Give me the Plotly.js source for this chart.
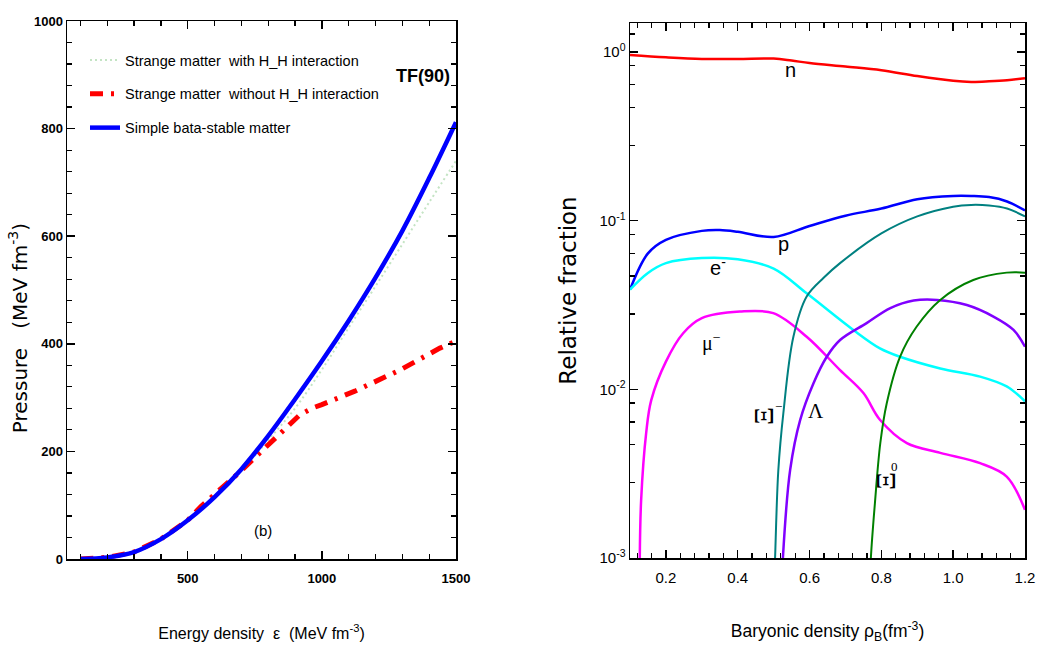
<!DOCTYPE html>
<html><head><meta charset="utf-8">
<script src="https://cdn.plot.ly/plotly-3.0.1.min.js"></script>
<style>body{margin:0;background:#fff}#c{width:1038px;height:649px}</style>
</head><body><div id="c"></div>
<script>
// ---- Left panel: pressure vs energy density ----
const epsBlue = [100,200,300,400,500,600,700,800,900,1000,1100,1200,1300,1400,1500];
const pBlue   = [0,3,13,37,72,115,167,229,297,368,443,523,610,708,812];
const epsGreen = [100,200,300,400,500,600,700,800,900,1000,1100,1200,1300,1400,1500];
const pGreen   = [0,3,13,37,72,114,164,221,280,352,430,507,585,663,740];
const epsRed = [100,200,300,400,500,550,690,845,918,967,1000,1123,1290,1440,1500];
const pRed   = [0,3,13,37,72,98,160,234,268,281,287,312,351,392,405];
const legendNames = ["Strange matter  with H_H interaction","Strange matter  without H_H interaction","Simple bata-stable matter"];

// ---- Right panel: relative fractions vs baryonic density ----
const rhoN = [0.1,0.2,0.3,0.4,0.5,0.55,0.6,0.7,0.8,0.9,1.0,1.05,1.1,1.15,1.2];
const fN   = [0.96,0.93,0.91,0.91,0.915,0.89,0.86,0.82,0.78,0.72,0.675,0.665,0.67,0.68,0.70];
const rhoP = [0.1,0.15,0.2,0.3,0.35,0.4,0.5,0.6,0.7,0.8,0.9,1.0,1.05,1.1,1.15,1.2];
const fP   = [0.039,0.064,0.077,0.087,0.088,0.086,0.080,0.093,0.107,0.118,0.134,0.140,0.140,0.138,0.130,0.115];
const rhoE = [0.1,0.15,0.2,0.3,0.4,0.5,0.592,0.722,0.796,0.852,0.964,1.075,1.149,1.2];
const fE   = [0.039,0.049,0.056,0.060,0.059,0.052,0.0371,0.0225,0.0175,0.0156,0.0133,0.0119,0.0104,0.0085];
const rhoMu = [0.127,0.131,0.145,0.159,0.2,0.248,0.3,0.406,0.499,0.592,0.685,0.75,0.796,0.871,0.964,1.075,1.149,1.2];
const fMu   = [0.0009,0.0022,0.0055,0.0086,0.0146,0.0215,0.0264,0.0289,0.0283,0.0205,0.013,0.0095,0.0066,0.0048,0.0042,0.00365,0.00304,0.00193];
const rhoXim = [0.503,0.504,0.513,0.527,0.555,0.592,0.64,0.685,0.8,0.9,1.0,1.05,1.1,1.15,1.2];
const fXim   = [0.0009,0.001,0.0033,0.0072,0.0205,0.0355,0.046,0.056,0.084,0.106,0.121,0.124,0.123,0.118,0.106];
const rhoLam = [0.525,0.526,0.546,0.574,0.611,0.648,0.685,0.759,0.825,0.89,0.955,1.038,1.112,1.168,1.2];
const fLam   = [0.0009,0.00102,0.00333,0.00659,0.01087,0.0156,0.0196,0.0247,0.0303,0.0336,0.0339,0.0316,0.027,0.0225,0.0179];
const rhoXi0 = [0.770,0.771,0.782,0.797,0.815,0.852,0.898,0.964,1.056,1.149,1.2];
const fXi0   = [0.0009,0.00102,0.00211,0.00479,0.00827,0.0156,0.0235,0.0339,0.0445,0.0492,0.0492];
const yTickVals = [0.001,0.01,0.1,1];
const yTickText = ["10<sup>-3</sup>","10<sup>-2</sup>","10<sup>-1</sup>","10<sup>0</sup>"];

const NARROW = "Liberation Sans, Arial, sans-serif";
const WIDE = "DejaVu Sans, Verdana, sans-serif";
const SERIF = "Liberation Serif, Times New Roman, serif";
const NB = '\u00a0';

const traces = [
  {x:epsGreen,y:pGreen,xaxis:'x',yaxis:'y',mode:'lines',name:legendNames[0],legendgroup:'a',
   line:{color:'#c4e4c4',width:2,dash:'2px,3px',shape:'spline'}},
  {x:epsRed,y:pRed,xaxis:'x',yaxis:'y',mode:'lines',name:legendNames[1],legendgroup:'b',
   line:{color:'#ff0000',width:5,dash:'13px,8px,3px,8px'}},
  {x:epsBlue,y:pBlue,xaxis:'x',yaxis:'y',mode:'lines',name:legendNames[2],legendgroup:'c',
   line:{color:'#0000ff',width:4.5,shape:'spline'}},
  {x:rhoN,y:fN,xaxis:'x2',yaxis:'y2',mode:'lines',showlegend:false,line:{color:'#ff0000',width:2.5,shape:'spline'}},
  {x:rhoP,y:fP,xaxis:'x2',yaxis:'y2',mode:'lines',showlegend:false,line:{color:'#0000ff',width:2.5,shape:'spline'}},
  {x:rhoE,y:fE,xaxis:'x2',yaxis:'y2',mode:'lines',showlegend:false,line:{color:'#00ffff',width:2.5,shape:'spline'}},
  {x:rhoMu,y:fMu,xaxis:'x2',yaxis:'y2',mode:'lines',showlegend:false,line:{color:'#ff00ff',width:2.5,shape:'spline'}},
  {x:rhoXim,y:fXim,xaxis:'x2',yaxis:'y2',mode:'lines',showlegend:false,line:{color:'#008080',width:2,shape:'spline'}},
  {x:rhoLam,y:fLam,xaxis:'x2',yaxis:'y2',mode:'lines',showlegend:false,line:{color:'#8000ff',width:2.5,shape:'spline'}},
  {x:rhoXi0,y:fXi0,xaxis:'x2',yaxis:'y2',mode:'lines',showlegend:false,line:{color:'#008000',width:2,shape:'spline'}}
];

const W=1038,H=649;
const px=v=>v/W, py=v=>1-v/H;
const axCommon = {showline:true,linecolor:'#000',linewidth:1.5,mirror:'allticks',ticks:'inside',
  tickcolor:'#000',showgrid:false,zeroline:false};
function ann(x,y,text,font,extra){
  return Object.assign({xref:'paper',yref:'paper',x:px(x),y:py(y),text:text,showarrow:false,
    xanchor:'center',yanchor:'middle',font:font},extra||{});
}

const layout = {
  width:W,height:H,margin:{l:0,r:0,t:0,b:0},paper_bgcolor:'#fff',plot_bgcolor:'#fff',
  showlegend:true,
  legend:{x:px(85),y:py(44),xanchor:'left',yanchor:'top',bgcolor:'rgba(0,0,0,0)',
    font:{family:NARROW,size:14.5,color:'#000'},tracegroupgap:12,traceorder:'grouped'},
  xaxis:Object.assign({},axCommon,{domain:[px(67),px(456)],range:[50,1500],dtick:500,tick0:0,ticklen:8,tickwidth:1.5,
    ticklabelstandoff:7,
    tickfont:{family:NARROW,size:13,color:'#000',weight:'bold'},
    minor:{dtick:100,tick0:0,ticklen:5,ticks:'inside',tickcolor:'#000',tickwidth:1.2,showgrid:false},
    title:{text:'Energy density  ε  (MeV fm<sup>-3</sup>)',font:{family:NARROW,size:16,color:'#000'},standoff:42}}),
  yaxis:Object.assign({},axCommon,{domain:[py(559),py(21)],range:[0,1000],dtick:200,ticklen:8,tickwidth:1.5,
    tickfont:{family:NARROW,size:13,color:'#000',weight:'bold'},
    minor:{dtick:40,ticklen:5,ticks:'inside',tickcolor:'#000',tickwidth:1.2,showgrid:false},
    title:{text:'Pressure'+NB+NB+NB+'(MeV fm<sup>-3</sup>)'+NB.repeat(12)+'\u200b',font:{family:WIDE,size:20,color:'#000'},standoff:1}}),
  xaxis2:Object.assign({},axCommon,{anchor:'y2',domain:[px(630),px(1025)],range:[0.1,1.2],dtick:0.2,tick0:0,ticklen:8,tickwidth:1.5,
    ticklabelstandoff:5,
    tickformat:'.1f',tickfont:{family:NARROW,size:15,color:'#000'},
    minor:{dtick:0.04,tick0:0,ticklen:5,ticks:'inside',tickcolor:'#000',tickwidth:1.2,showgrid:false},
    title:{text:'Baryonic density ρ<sub>B</sub>(fm<sup>-3</sup>)',font:{family:NARROW,size:17.5,color:'#000'},standoff:40}}),
  yaxis2:Object.assign({},axCommon,{anchor:'x2',domain:[py(558),py(23)],type:'log',range:[-3,0.172],
    tickmode:'array',tickvals:yTickVals,ticktext:yTickText,ticklen:8,tickwidth:1.5,
    tickfont:{family:NARROW,size:15,color:'#000'},
    minor:{tickmode:'array',tickvals:[0.0028,0.0047,0.0064,0.0083,0.028,0.047,0.064,0.083,0.28,0.47,0.64,0.83,1.28],
      ticklen:5,ticks:'inside',tickcolor:'#000',tickwidth:1.2,showgrid:false},
    title:{text:'Relative fraction',font:{family:WIDE,size:23,color:'#000'},standoff:16}}),
  annotations:[
    ann(423,76,'<b>TF(90)</b>',{family:NARROW,size:18,color:'#000'}),
    ann(263,530,'(b)',{family:NARROW,size:15,color:'#000'}),
    ann(790,70,'n',{family:NARROW,size:20,color:'#000'}),
    ann(783,244,'p',{family:NARROW,size:20,color:'#000'}),
    ann(718,266,'e<sup>-</sup>',{family:NARROW,size:20,color:'#000'}),
    ann(711,342,'μ<sup>−</sup>',{family:SERIF,size:20,color:'#000'}),
    ann(763,416,'Ξ',{family:SERIF,size:28,color:'#000'},{textangle:-90}),
    ann(778,406,'−',{family:SERIF,size:13,color:'#000'}),
    ann(816,411,'Λ',{family:SERIF,size:21,color:'#000'}),
    ann(885,481,'Ξ',{family:SERIF,size:28,color:'#000'},{textangle:-90}),
    ann(894,467,'0',{family:SERIF,size:13,color:'#000'})
  ]
};
Plotly.newPlot('c',traces,layout,{displayModeBar:false,staticPlot:true});
</script></body></html>
